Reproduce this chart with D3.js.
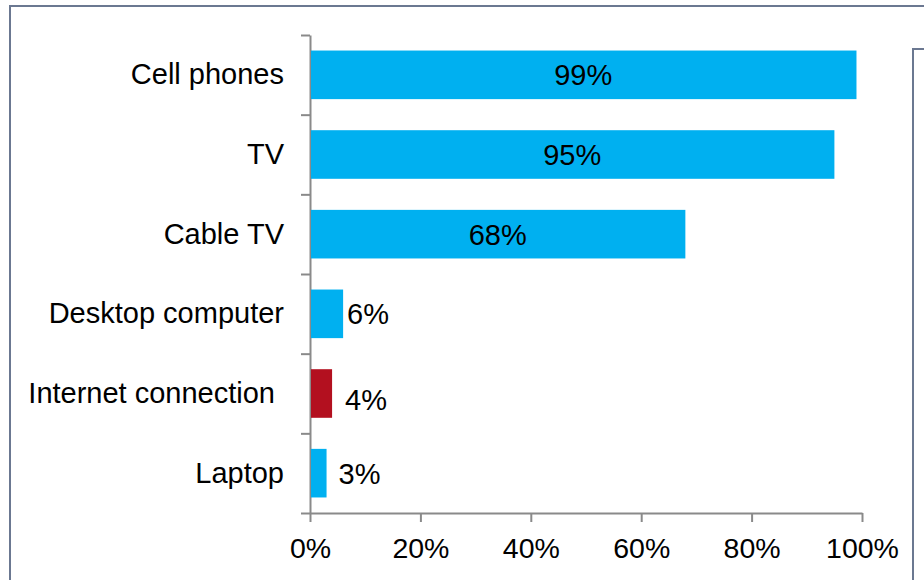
<!DOCTYPE html>
<html>
<head>
<meta charset="utf-8">
<script src="https://cdn.jsdelivr.net/npm/d3@7"></script>
<style>
  html, body { margin: 0; padding: 0; background: #fff; }
  svg { display: block; font-family: "Liberation Sans", Arial, sans-serif; }
</style>
</head>
<body>
<svg id="chart" width="924" height="580"></svg>
<script>
// ---- data ----
const categories = ["Cell phones", "TV", "Cable TV", "Desktop computer", "Internet connection", "Laptop"];
const values = [99, 95, 68, 6, 4, 3];
const highlighted = ["Internet connection"];
const xTickValues = [0, 20, 40, 60, 80, 100];

// ---- styling / layout (not data) ----
const blue = "#00B0F0", red = "#B3101F", axisColor = "#8a8a8a", frameColor = "#6b7891";
const labelNudge = { "Internet connection": { catDx: -9, valDx: 10, valDy: 6 }, "Laptop": { catDx: 0, valDx: 9, valDy: 0 }, "Desktop computer": { catDx: 0, valDx: 1, valDy: 0 } };

const svg = d3.select("#chart");

// frame
svg.append("line").attr("x1", 10).attr("x2", 10).attr("y1", 5).attr("y2", 580)
  .attr("stroke", frameColor).attr("stroke-width", 2);
svg.append("line").attr("x1", 9).attr("x2", 924).attr("y1", 6).attr("y2", 6)
  .attr("stroke", frameColor).attr("stroke-width", 2);
svg.append("line").attr("x1", 913).attr("x2", 913).attr("y1", 48).attr("y2", 580)
  .attr("stroke", frameColor).attr("stroke-width", 2);
svg.append("line").attr("x1", 912).attr("x2", 924).attr("y1", 49).attr("y2", 49)
  .attr("stroke", frameColor).attr("stroke-width", 2);

const plotLeft = 310, plotRight = 862, plotTop = 35, plotBottom = 513;

const x = d3.scaleLinear().domain([0, 100]).range([plotLeft, plotRight]);
const y = d3.scaleBand().domain(categories).range([plotTop, plotBottom])
  .paddingInner(0.39).paddingOuter(0.195);

// x axis
const xAxis = svg.append("g").attr("transform", `translate(0,${plotBottom})`)
  .call(d3.axisBottom(x).tickValues(xTickValues).tickFormat(d => d + "%")
    .tickSizeInner(9).tickSizeOuter(0).tickPadding(16));
xAxis.select(".domain").attr("stroke", axisColor).attr("stroke-width", 2);
xAxis.selectAll(".tick line").attr("stroke", axisColor).attr("stroke-width", 2);
xAxis.selectAll(".tick text").attr("fill", "#000").attr("font-size", 28.5)
  .attr("font-family", "Liberation Sans, Arial, sans-serif");

// y axis: ticks at category boundaries
const yb = d3.scaleLinear().domain([0, categories.length]).range([plotTop, plotBottom]);
const yAxis = svg.append("g").attr("transform", `translate(${plotLeft},0)`)
  .call(d3.axisLeft(yb).ticks(categories.length).tickFormat("")
    .tickSizeInner(9).tickSizeOuter(0));
yAxis.select(".domain").attr("stroke", axisColor).attr("stroke-width", 2);
yAxis.selectAll(".tick line").attr("stroke", axisColor).attr("stroke-width", 2);

// bars
const data = categories.map((c, i) => ({ cat: c, val: values[i] }));
svg.append("g").selectAll("rect").data(data).join("rect")
  .attr("x", x(0) + 1)
  .attr("y", d => y(d.cat))
  .attr("width", d => x(d.val) - x(0) - 1)
  .attr("height", y.bandwidth())
  .attr("fill", d => highlighted.includes(d.cat) ? red : blue);

// category labels
svg.append("g").selectAll("text").data(data).join("text")
  .attr("x", d => plotLeft - 26 + ((labelNudge[d.cat] || {}).catDx || 0))
  .attr("y", d => y(d.cat) + y.bandwidth() / 2)
  .attr("dy", "0.33em")
  .attr("text-anchor", "end")
  .attr("font-size", 29)
  .attr("fill", "#000")
  .text(d => d.cat);

// value labels: inside (centered) for big bars, outside for small ones
svg.append("g").selectAll("text").data(data).join("text")
  .attr("x", d => d.val > 20 ? (x(0) + x(d.val)) / 2 : x(d.val) + 3 + ((labelNudge[d.cat] || {}).valDx || 0))
  .attr("y", d => y(d.cat) + y.bandwidth() / 2 + ((labelNudge[d.cat] || {}).valDy || 0))
  .attr("dy", "0.36em")
  .attr("text-anchor", d => d.val > 20 ? "middle" : "start")
  .attr("font-size", 29)
  .attr("fill", "#000")
  .text(d => d.val + "%");
</script>
</body>
</html>
